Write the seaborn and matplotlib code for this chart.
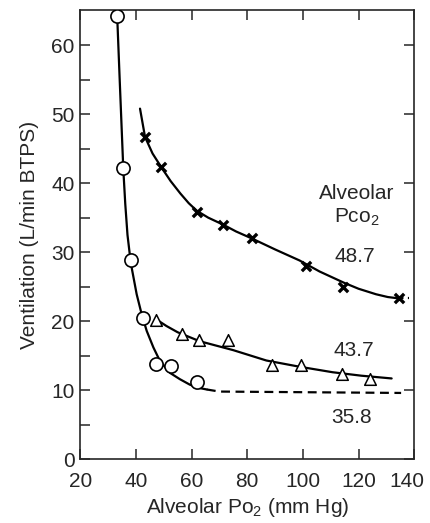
import matplotlib
matplotlib.use("Agg")
import matplotlib.pyplot as plt
import matplotlib.transforms as mtransforms
import seaborn as sns

# ----- DATA -----
# Alveolar PCO2 = 35.8 (open circles)
po2_358 = [33.3, 35.4, 38.2, 42.6, 47.2, 52.6, 61.9]
ve_358 = [64.2, 42.2, 28.8, 20.5, 13.8, 13.5, 11.2]
curve_358_x = [33.3, 34.2, 35.0, 35.5, 36.2, 37.0, 38.2, 40.3, 42.1, 43.9, 46.3, 48.7, 52.3, 55.8, 59.4, 63.0, 65.5]
curve_358_y = [64.2, 55.0, 47.0, 42.0, 37.0, 32.5, 28.4, 23.9, 21.0, 18.6, 16.2, 14.2, 12.5, 11.6, 10.8, 10.3, 10.1]
dash_358_x = [65.5, 70.0, 135.3]
dash_358_y = [10.1, 9.8, 9.6]

# Alveolar PCO2 = 43.7 (open triangles)
po2_437 = [47.2, 56.6, 62.6, 73.0, 88.9, 99.2, 113.9, 124.3]
ve_437 = [20.1, 18.2, 17.3, 17.3, 13.7, 13.7, 12.4, 11.6]
curve_437_x = [47.2, 51.0, 55.0, 62.9, 75.0, 86.9, 98.8, 110.7, 121.0, 131.9]
curve_437_y = [20.3, 19.3, 18.4, 17.1, 15.8, 14.3, 13.4, 12.6, 12.1, 11.7]

# Alveolar PCO2 = 48.7 (crosses)
po2_487 = [43.3, 49.0, 61.9, 71.3, 81.6, 101.0, 114.6, 134.4]
ve_487 = [46.7, 42.4, 35.8, 34.0, 32.1, 28.0, 25.0, 23.3]
curve_487_x = [41.5, 43.3, 46.0, 49.0, 52.5, 56.0, 59.0, 61.9, 66.0, 71.3, 76.0, 81.6,
               90.0, 98.8, 106.0, 114.6, 120.0, 126.3, 130.5, 134.4]
curve_487_y = [50.8, 46.7, 44.3, 42.4, 40.3, 38.5, 37.1, 36.0, 35.0, 34.0, 33.0, 32.0,
               30.4, 28.8, 27.2, 25.6, 24.7, 23.9, 23.5, 23.3]
dash_487_x = [134.4, 138.3]
dash_487_y = [23.3, 23.3]

labels_pco2 = ["48.7", "43.7", "35.8"]
label_x = [118.6, 118.2, 117.5]
label_y = [29.4, 15.7, 6.1]

# ----- STYLE -----
sns.set_style("ticks")
plt.rcParams["font.family"] = ["Liberation Sans", "DejaVu Sans"]
plt.rcParams["mathtext.fontset"] = "custom"
plt.rcParams["mathtext.rm"] = "Liberation Sans"
plt.rcParams["mathtext.it"] = "Liberation Sans"

fig = plt.figure(figsize=(4.31, 5.23), dpi=100)
ax = fig.add_axes([0.186, 0.122, 0.775, 0.859])

# ----- CURVES -----
sns.lineplot(x=curve_358_x, y=curve_358_y, sort=False, color="black", lw=1.6, ax=ax)
sns.lineplot(x=dash_358_x, y=dash_358_y, sort=False, color="black", lw=1.6,
             linestyle=(0, (4, 2.5)), ax=ax)
sns.lineplot(x=curve_437_x, y=curve_437_y, sort=False, color="black", lw=1.6, ax=ax)
sns.lineplot(x=curve_487_x, y=curve_487_y, sort=False, color="black", lw=1.6, ax=ax)
sns.lineplot(x=dash_487_x, y=dash_487_y, sort=False, color="black", lw=1.6,
             linestyle=(0, (2, 2)), ax=ax)

# ----- MARKERS -----
sns.scatterplot(x=po2_358, y=ve_358, marker="o", s=90, facecolor="white",
                edgecolor="black", linewidth=1.2, zorder=5, ax=ax)
sns.scatterplot(x=po2_437, y=ve_437, marker="^", s=70, facecolor="white",
                edgecolor="black", linewidth=1.1, zorder=5, ax=ax)
sns.scatterplot(x=po2_487, y=ve_487, marker="x", s=45, color="black",
                linewidth=2.4, zorder=5, ax=ax)

# ----- TEXT -----
ax.text(119.3, 38.5, "Alveolar", ha="center", va="center", fontsize=15)
ax.text(119.3, 35.0, r"Pco$_2$", ha="center", va="center", fontsize=15)
for t, tx, ty in zip(labels_pco2, label_x, label_y):
    ax.text(tx, ty, t, ha="center", va="center", fontsize=15)

# ----- AXES -----
ax.set_xlim(20, 140)
ax.set_ylim(0, 65.1)
ax.set_xticks(range(20, 141, 20))
ax.set_yticks(range(0, 61, 10))
ax.set_yticks(range(5, 61, 10), minor=True)
ax.tick_params(axis="both", which="both", direction="in", length=7, width=1.1,
               labelsize=15, top=True, right=True)
ax.tick_params(axis="y", which="minor", right=False)
ax.tick_params(axis="x", pad=9)
ax.tick_params(axis="y", pad=4)
for s in ax.spines.values():
    s.set_linewidth(1.2)
ax.set_xlabel(r"Alveolar Po$_2$ (mm Hg)", fontsize=15, labelpad=4)
ax.set_ylabel("Ventilation (L/min BTPS)", fontsize=15, labelpad=9)

# last x label sits a little left of its tick, as in the reference
last = ax.get_xticklabels()[-1]
last.set_transform(last.get_transform() +
                   mtransforms.ScaledTranslation(-7 / 100, 0, fig.dpi_scale_trans))

fig.savefig("out.png", dpi=100)
